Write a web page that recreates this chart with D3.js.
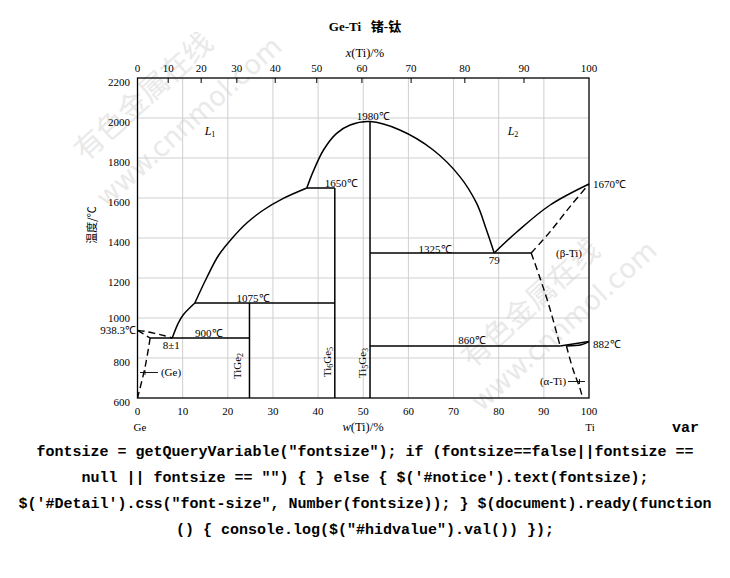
<!DOCTYPE html>
<html>
<head>
<meta charset="utf-8">
<script src="https://cdn.jsdelivr.net/npm/d3@7/dist/d3.min.js"></script>
<style>
html,body{margin:0;padding:0;background:#fff;}
svg{display:block;}
</style>
</head>
<body>
<svg id="chart" width="730" height="578"></svg>
<script>
// ---------- data ----------
const wTicks = [0,10,20,30,40,50,60,70,80,90,100];           // w(Ti)/% bottom axis
const tTicks = [600,800,1000,1200,1400,1600,1800,2000,2200]; // temperature axis
const xTopLabels = [0,10,20,30,40,50,60,70,80,90,100];        // x(Ti)/% labels
const xTopPos = [0,6.8,14.1,22.0,30.5,39.7,49.7,60.6,72.5,85.6,100]; // positions in w%
const gridW = [10,20,30,40,50,60,70,80,90];
const gridT = [800,1000,1200,1400,1600,1800,2000];

// solid curves [w%, °C]
const liqL1a = [[7.7,900],[9,973],[10.1,1015],[12.7,1075]];
const liqL1b = [[12.7,1075],[15.3,1200],[18,1315],[21,1400],[24.2,1475],[27.9,1540],[32.3,1598],[37.5,1650]];
const dome = [[37.5,1650],[38.9,1732],[41.2,1840],[44.1,1923],[47.1,1965],[51.5,1982],[58.1,1940],[65.5,1840],[71.4,1707],[75.1,1574],[77.3,1440],[79,1325]];
const liqBeta = [[79,1325],[84,1430],[91.4,1565],[100,1670]];
const lensUpper = [[93.6,860],[100,882]];
const lensLower = [[95,860],[98.3,866],[100,882]];
// dashed curves
const geLiq = [[0,938.3],[2,932],[4.2,921],[6,911],[7.7,900]];
const geSol = [[0,938.3],[2.8,900]];
const geSolvus = [[2.8,900],[1.7,757],[0,600]];
const betaSol = [[87.2,1325],[91.4,1432],[95.8,1557],[100,1670]];
const betaTransus = [[87.2,1325],[89.3,1190],[91.3,1050],[93.6,860]];
const alphaSolvus = [[95,860],[96.5,740],[98,648],[98.6,600]];
// horizontal invariants [w1, w2, T]
const isotherms = [[2.8,24.8,900],[12.7,43.7,1075],[37.5,43.7,1650],[51.5,87.2,1325],[51.5,93.6,860]];
// compounds [w, Ttop]
const compounds = [[24.8,1075],[43.7,1650],[51.5,1982]];

// labels [text, w, T]
const tempLabels = [["1980℃",52.2,1990],["1650℃",45.1,1656],["1075℃",25.6,1078],["900℃",15.8,903],
                    ["1325℃",65.9,1327],["860℃",74.1,868]];
const codeLines = [
  'fontsize = getQueryVariable("fontsize"); if (fontsize==false||fontsize ==',
  'null || fontsize == "") { } else { $(\'#notice\').text(fontsize);',
  '$(\'#Detail\').css("font-size", Number(fontsize)); } $(document).ready(function',
  '() { console.log($("#hidvalue").val()) });'
];

// ---------- chart ----------
const svg = d3.select("#chart");
const x = d3.scaleLinear().domain([0,100]).range([137.5,589]);
const y = d3.scaleLinear().domain([600,2200]).range([398,78]);
const serif = "'Liberation Serif','Times New Roman',serif";

// watermarks
const wm = svg.append("g").attr("fill","#e9e9e9");
[[145,98,"有色金属在线",29,"'Noto Sans CJK SC'"],[190,123,"www.cnnmol.com",27,"'DejaVu Sans'"],
 [532,305,"有色金属在线",29,"'Noto Sans CJK SC'"],[565,327,"www.cnnmol.com",27,"'DejaVu Sans'"]].forEach(d=>{
  wm.append("text").attr("transform",`translate(${d[0]},${d[1]}) rotate(-42)`)
    .attr("text-anchor","middle").attr("dominant-baseline","middle")
    .attr("font-family",d[4]).attr("font-size",d[3]).text(d[2]);
});

// grid
const grid = svg.append("g").attr("stroke","#cfcfcf").attr("stroke-width",1);
grid.selectAll("line.v").data(gridW).join("line")
  .attr("x1",d=>x(d)).attr("x2",d=>x(d)).attr("y1",y(2200)).attr("y2",y(600));
grid.selectAll("line.h").data(gridT).join("line")
  .attr("x1",x(0)).attr("x2",x(100)).attr("y1",d=>y(d)).attr("y2",d=>y(d));

// frame
svg.append("rect").attr("x",x(0)).attr("y",y(2200)).attr("width",x(100)-x(0)).attr("height",y(600)-y(2200))
  .attr("fill","none").attr("stroke","#000").attr("stroke-width",1.3);

// axis labels
const axg = svg.append("g").attr("font-family",serif).attr("font-size",11).attr("fill","#000");
axg.selectAll("text.b").data(wTicks).join("text").attr("class","b").attr("x",d=>x(d)).attr("y",415).attr("text-anchor","middle").text(d=>d);
axg.selectAll("text.l").data(tTicks).join("text").attr("class","l").attr("x",130).attr("y",d=>y(d)+7.5-(d===1000?4:0))
  .attr("text-anchor","end").text(d=>d);
axg.selectAll("text.t").data(xTopPos).join("text").attr("class","t").attr("x",d=>x(d)).attr("y",72).attr("text-anchor","middle")
  .text((d,i)=>xTopLabels[i]);
svg.append("g").attr("stroke","#000").attr("stroke-width",1).selectAll("line").data(xTopPos.slice(1,10)).join("line")
  .attr("x1",d=>x(d)).attr("x2",d=>x(d)).attr("y1",y(2200)).attr("y2",y(2200)+5);

// axis titles
svg.append("text").attr("x",365).attr("y",31).attr("text-anchor","middle").attr("font-weight","bold")
  .attr("font-family","'Liberation Serif','Noto Sans CJK SC',serif").attr("font-size",13)
  .attr("xml:space","preserve").text("Ge-Ti   锗-钛");
const tt = svg.append("text").attr("x",365).attr("y",57).attr("text-anchor","middle").attr("font-family",serif).attr("font-size",12.5);
tt.append("tspan").attr("font-style","italic").text("x");
tt.append("tspan").text("(Ti)/%");
const bt = svg.append("text").attr("x",363).attr("y",431).attr("text-anchor","middle").attr("font-family",serif).attr("font-size",12.5);
bt.append("tspan").attr("font-style","italic").text("w");
bt.append("tspan").text("(Ti)/%");
axg.append("text").attr("x",140).attr("y",431).attr("text-anchor","middle").text("Ge");
axg.append("text").attr("x",590).attr("y",431).attr("text-anchor","middle").text("Ti");
svg.append("text").attr("transform",`translate(96,225) rotate(-90)`).attr("text-anchor","middle")
  .attr("font-family","'Noto Sans CJK SC',sans-serif").attr("font-size",11).text("温度/℃");

// phase lines
const line = d3.line().x(d=>x(d[0])).y(d=>y(d[1])).curve(d3.curveCatmullRom.alpha(0.5));
const solid = svg.append("g").attr("fill","none").attr("stroke","#000").attr("stroke-width",1.5);
[liqL1a,liqL1b,dome,liqBeta,lensUpper,lensLower].forEach(p=>solid.append("path").attr("d",line(p)));
solid.selectAll("line.iso").data(isotherms).join("line").attr("class","iso")
  .attr("x1",d=>x(d[0])).attr("x2",d=>x(d[1])).attr("y1",d=>y(d[2])).attr("y2",d=>y(d[2]));
solid.selectAll("line.cmp").data(compounds).join("line").attr("class","cmp")
  .attr("x1",d=>x(d[0])).attr("x2",d=>x(d[0])).attr("y1",d=>y(d[1])).attr("y2",y(600));
const dashed = svg.append("g").attr("fill","none").attr("stroke","#000").attr("stroke-width",1.4).attr("stroke-dasharray","7,4");
[geLiq,geSol,geSolvus,betaSol,betaTransus,alphaSolvus].forEach(p=>dashed.append("path").attr("d",line(p)));

// labels
const lab = svg.append("g").attr("font-family",serif).attr("font-size",11).attr("fill","#000");
lab.selectAll("text.tl").data(tempLabels).join("text").attr("class","tl").attr("x",d=>x(d[1])).attr("y",d=>y(d[2])).attr("text-anchor","middle").text(d=>d[0]);
lab.append("text").attr("x",x(79)).attr("y",y(1325)+11).attr("text-anchor","middle").text("79");
lab.append("text").attr("x",593).attr("y",y(1670)+4).text("1670℃");
lab.append("text").attr("x",593).attr("y",y(882)+6).text("882℃");
lab.append("text").attr("x",136).attr("y",y(938.3)+4).attr("text-anchor","end").text("938.3℃");
lab.append("text").attr("x",x(7.5)).attr("y",y(900)+11).attr("text-anchor","middle").text("8±1");
lab.append("text").attr("x",569).attr("y",y(1325)+4).attr("text-anchor","middle").text("(β-Ti)");
lab.append("text").attr("x",553).attr("y",385).attr("text-anchor","middle").text("(α-Ti)");
lab.append("text").attr("x",171).attr("y",376).attr("text-anchor","middle").text("(Ge)");
// L1, L2
[["1",210,135],["2",513,135]].forEach(d=>{
  const t = lab.append("text").attr("x",d[1]).attr("y",d[2]).attr("text-anchor","middle").attr("font-size",12);
  t.append("tspan").attr("font-style","italic").text("L");
  t.append("tspan").attr("font-size",8).attr("dy",2).text(d[0]);
});
// compound vertical labels
[[237,366,"Ti","Ge","2",""],[327,362,"Ti","Ge","5","6"],[362,363,"Ti","Ge","3","5"]].forEach(d=>{
  const t = lab.append("text").attr("transform",`translate(${d[0]+4},${d[1]}) rotate(-90)`).attr("text-anchor","middle").attr("font-size",11);
  t.append("tspan").text(d[2]);
  if(d[5]){ t.append("tspan").attr("font-size",8).attr("dy",2).text(d[5]); t.append("tspan").attr("dy",-2).text(d[3]); }
  else t.append("tspan").text(d[3]);
  t.append("tspan").attr("font-size",8).attr("dy",2).text(d[4]);
});
// leaders
const ld = svg.append("g").attr("stroke","#000").attr("stroke-width",0.9);
ld.append("line").attr("x1",140).attr("x2",158).attr("y1",372.5).attr("y2",372.5);
ld.append("line").attr("x1",145).attr("x2",145).attr("y1",370).attr("y2",375);
ld.append("line").attr("x1",568).attr("x2",585).attr("y1",381.5).attr("y2",381.5);
ld.append("line").attr("x1",579.5).attr("x2",579.5).attr("y1",379).attr("y2",384);

// stray code text below the figure
const code = svg.append("g").attr("font-family","'Liberation Mono','DejaVu Sans Mono',monospace")
  .attr("font-weight","bold").attr("font-size",15).attr("fill","#000");
code.append("text").attr("x",672).attr("y",432).text("var");
code.selectAll("text.c").data(codeLines).join("text").attr("class","c").attr("x",365).attr("y",(d,i)=>456+i*26)
  .attr("text-anchor","middle").attr("xml:space","preserve").text(d=>d);
</script>
</body>
</html>
